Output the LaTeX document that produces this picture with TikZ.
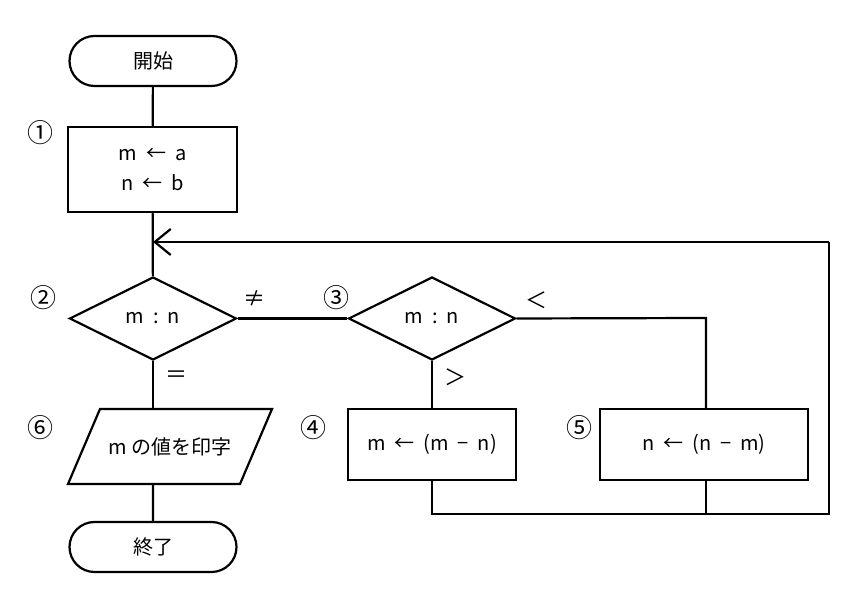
\documentclass[tikz,border=0pt]{standalone}
\usepackage{fontspec}
\setmainfont{Noto Sans CJK JP}
\usetikzlibrary{shapes.geometric,shapes.misc,arrows.meta}
\begin{document}
\begin{tikzpicture}[x=0.5pt,y=-0.5pt,
  every node/.style={font=\fontsize{10pt}{12pt}\selectfont},
  ln/.style={line width=1.1pt},
  term/.style={draw,ln,rounded rectangle,minimum width=83.5pt,minimum height=25pt,inner sep=0pt},
  proc/.style={draw,ln,rectangle,inner sep=0pt},
  dec/.style={draw,ln,diamond,minimum width=83.5pt,minimum height=41.5pt,inner sep=0pt,aspect=2},
  lab/.style={font=\fontsize{11pt}{12pt}\selectfont},
  num/.style={font=\fontsize{13pt}{14pt}\selectfont}]
\useasboundingbox (0,0) rectangle (841,597);
\node[term] (start) at (153,61) {開始};
\node[proc,minimum width=84.5pt,minimum height=42.5pt,align=center] (p1) at (152.5,169.5) {m\ \ ←\ \ a\\[3pt]n\ \ ←\ \ b};
\node[dec] (d2) at (153,318.5) {m\ \ :\ \ n};
\node[dec] (d3) at (432,318.5) {m\ \ :\ \ n};
\node[proc,minimum width=84pt,minimum height=35.5pt] (p4) at (432,444.5) {m\ \ ←\ \ (m\ \ −\ \ n)};
\node[proc,minimum width=104pt,minimum height=35.5pt] (p5) at (704,444.5) {n\ \ ←\ \ (n\ \ −\ \ m)};
\coordinate (pa) at (68,484); \coordinate (pb) at (100,409);
\coordinate (pc) at (272,409); \coordinate (pd) at (240,484);
\draw[ln] (pa) -- (pb) -- (pc) -- (pd) -- cycle;
\node (p6) at (170,446.5) {m\ の値を印字};
\node[term] (end) at (153,547) {終了};
\node[num] at (40,133) {①};
\node[num] at (44,298) {②};
\node[num] at (336,298) {③};
\node[num] at (313,428) {④};
\node[num] at (579,428) {⑤};
\node[num] at (40,428) {⑥};
\node[lab] at (254,298) {≠};
\node[lab] at (176,377) {＝};
\node[lab] at (536,300) {＜};
\node[lab] at (455,377) {＞};
\coordinate (j) at (153,242);
\coordinate (r1) at (829,242);
\coordinate (r2) at (829,514);
\coordinate (b5) at (706,514);
\coordinate (t5) at (706,318);
\draw[ln] (start) -- (p1);
\draw[ln] (p1) -- (d2);
\draw[ln] (d2) -- (d3);
\draw[ln] (d2.south) -- (153,409);
\draw[ln] (153,484) -- (end);
\draw[ln] (d3) -- (p4);
\draw[ln] (d3.east) -- (t5) -- (t5 |- p5.north);
\draw[ln] (p4.south) |- (r2) -- (r1);
\draw[ln,-{Straight Barb[length=8pt,width=13pt]}] (r1) -- (j);
\draw[ln] (p5.south -| b5) -- (b5);
\end{tikzpicture}
\end{document}
